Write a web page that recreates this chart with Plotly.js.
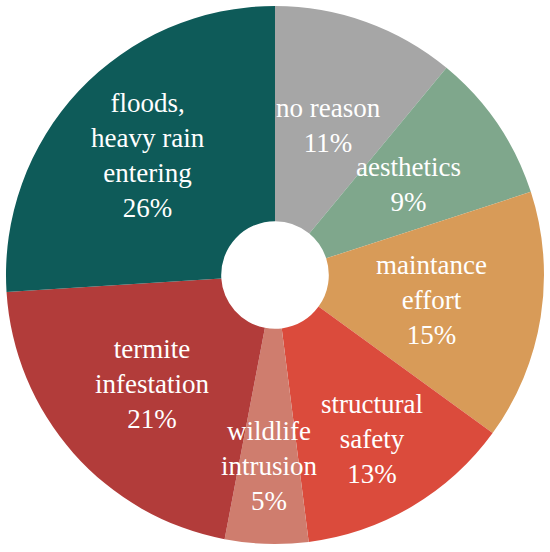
<!DOCTYPE html>
<html>
<head>
<meta charset="utf-8">
<script src="https://cdn.plot.ly/plotly-3.0.1.min.js"></script>
<style>body{margin:0;background:#fff}#graph{width:550px;height:552px}</style>
</head>
<body>
<div id="graph"></div>
<script>
// razones, en sentido horario desde arriba
const razones = ['no reason', 'aesthetics', 'maintance effort', 'structural safety',
                 'wildlife intrusion', 'termite infestation', 'floods, heavy rain entering'];
const etiquetas = ['no reason', 'aesthetics', 'maintance<br>effort', 'structural<br>safety',
                   'wildlife<br>intrusion', 'termite<br>infestation', 'floods,<br>heavy rain<br>entering'];
const porcentajes = [11, 9, 15, 13, 5, 21, 26];
const colores = ['#a6a6a6', '#7fa78c', '#d89b58', '#db4b3c', '#cf7d6e', '#b23c3a', '#0e5b59'];

// distancia de cada etiqueta al centro (fraccion del radio)
const radioEtiqueta = [0.59, 0.60, 0.59, 0.71, 0.71, 0.61, 0.65];

const graph = document.getElementById('graph');

// etiquetas como anotaciones, en el angulo medio de cada porcion
const total = porcentajes.reduce((a, b) => a + b, 0);
let acumulado = 0;
const anotaciones = [];
porcentajes.forEach((v, i) => {
    const ang = (acumulado + v / 2) / total * 2 * Math.PI;   // horario desde arriba
    acumulado += v;
    const r = 0.5 * radioEtiqueta[i];
    anotaciones.push({
        xref: 'paper', yref: 'paper',
        x: 0.5 + r * Math.sin(ang),
        y: 0.5 + r * Math.cos(ang),
        text: `${etiquetas[i]}<br>${v}%`,
        showarrow: false,
        xanchor: 'center', yanchor: 'middle',
        align: 'center',
        font: {family: 'Liberation Serif, serif', size: 27, color: '#ffffff'}
    });
});

Plotly.newPlot(graph, [
    {
        type: 'pie',
        labels: razones,
        values: porcentajes,
        textinfo: 'none',
        sort: false,
        direction: 'clockwise',
        rotation: 0,
        hole: 0.2,
        marker: {colors: colores, line: {width: 0}},
        hoverinfo: 'skip'
    }
], {
    width: 550,
    height: 552,
    showlegend: false,
    margin: {l: 6, r: 6, t: 6, b: 8},
    paper_bgcolor: '#ffffff',
    annotations: anotaciones
}, {staticPlot: true});
</script>
</body>
</html>
